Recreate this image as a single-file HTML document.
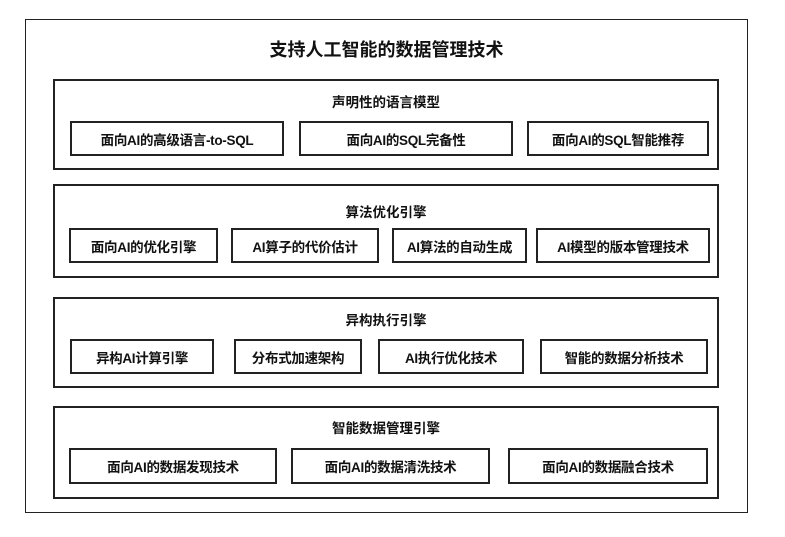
<!DOCTYPE html>
<html><head><meta charset="utf-8"><style>
body{margin:0;width:785px;height:537px;background:#fff;position:relative;overflow:hidden;font-family:"Liberation Sans","Noto Sans CJK SC",sans-serif;color:#111}
div.b{position:absolute;box-sizing:border-box;border:2px solid #222;background:#fff}
div.t{position:absolute;text-align:center;font-weight:bold;white-space:nowrap}
div.x{position:absolute;box-sizing:border-box;border:2px solid #222;display:flex;align-items:center;justify-content:center;font-size:13.5px;font-weight:bold;white-space:nowrap;letter-spacing:-0.3px}
</style></head><body>
<div class="b" style="left:25px;top:19px;width:723px;height:494px;border-width:1.5px"></div>
<div class="t" style="left:25px;width:723px;top:36px;font-size:18px">支持人工智能的数据管理技术</div>

<div class="b" style="left:53px;top:79px;width:666px;height:91px"></div>
<div class="t" style="left:53px;width:666px;top:91px;font-size:13.5px">声明性的语言模型</div>
<div class="x" style="left:70px;top:121px;width:214px;height:35px">面向AI的高级语言-to-SQL</div>
<div class="x" style="left:299px;top:121px;width:214px;height:35px">面向AI的SQL完备性</div>
<div class="x" style="left:527px;top:121px;width:182px;height:35px">面向AI的SQL智能推荐</div>

<div class="b" style="left:53px;top:184px;width:666px;height:94px"></div>
<div class="t" style="left:53px;width:666px;top:201px;font-size:13.5px">算法优化引擎</div>
<div class="x" style="left:69px;top:228px;width:149px;height:35px">面向AI的优化引擎</div>
<div class="x" style="left:231px;top:228px;width:148px;height:35px">AI算子的代价估计</div>
<div class="x" style="left:392px;top:228px;width:135px;height:35px">AI算法的自动生成</div>
<div class="x" style="left:536px;top:228px;width:174px;height:35px">AI模型的版本管理技术</div>

<div class="b" style="left:53px;top:297px;width:666px;height:91px"></div>
<div class="t" style="left:53px;width:666px;top:309px;font-size:13.5px">异构执行引擎</div>
<div class="x" style="left:70px;top:339px;width:144px;height:35px">异构AI计算引擎</div>
<div class="x" style="left:234px;top:339px;width:128px;height:35px">分布式加速架构</div>
<div class="x" style="left:378px;top:339px;width:146px;height:35px">AI执行优化技术</div>
<div class="x" style="left:540px;top:339px;width:168px;height:35px">智能的数据分析技术</div>

<div class="b" style="left:53px;top:406px;width:666px;height:93px"></div>
<div class="t" style="left:53px;width:666px;top:417px;font-size:13.5px">智能数据管理引擎</div>
<div class="x" style="left:69px;top:448px;width:208px;height:36px">面向AI的数据发现技术</div>
<div class="x" style="left:291px;top:448px;width:199px;height:36px">面向AI的数据清洗技术</div>
<div class="x" style="left:508px;top:448px;width:200px;height:36px">面向AI的数据融合技术</div>
</body></html>
